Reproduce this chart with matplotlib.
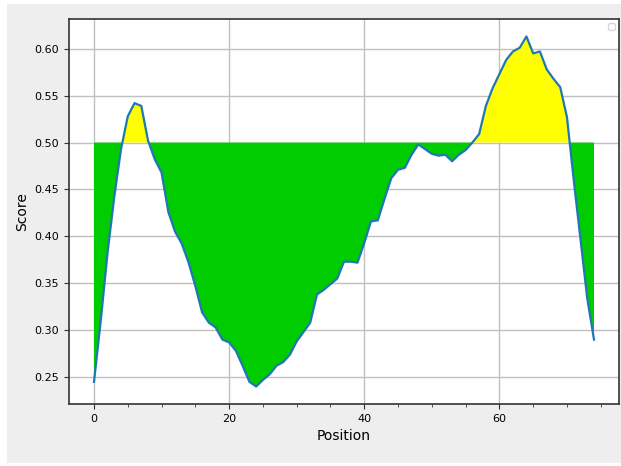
import matplotlib
matplotlib.use('Agg')
import matplotlib.pyplot as plt
from matplotlib.patches import Rectangle
from matplotlib.ticker import MultipleLocator
import numpy as np

# score along the sequence, one value per position
positions = list(range(75))
scores = [
    0.245, 0.310, 0.382, 0.442, 0.493, 0.528, 0.542, 0.539, 0.502, 0.482,
    0.468, 0.426, 0.405, 0.392, 0.372, 0.347, 0.319, 0.308, 0.303, 0.290,
    0.287, 0.278, 0.262, 0.245, 0.240, 0.247, 0.253, 0.262, 0.266, 0.274,
    0.288, 0.298, 0.308, 0.338, 0.343, 0.349, 0.355, 0.373, 0.373, 0.372,
    0.393, 0.416, 0.417, 0.440, 0.462, 0.471, 0.473, 0.487, 0.498, 0.493,
    0.488, 0.486, 0.487, 0.480, 0.487, 0.492, 0.500, 0.509, 0.539, 0.558,
    0.573, 0.588, 0.597, 0.601, 0.613, 0.595, 0.597, 0.578, 0.568, 0.559,
    0.527, 0.460, 0.397, 0.334, 0.290,
]
threshold = 0.5
x_ticks = [0, 20, 40, 60]
y_ticks = [0.25, 0.30, 0.35, 0.40, 0.45, 0.50, 0.55, 0.60]

x = np.array(positions)
y = np.array(scores)

fig = plt.figure(figsize=(6.21, 4.66), dpi=100, facecolor='white')
# grey panel behind everything, with a thin white margin like the screenshot
fig.patches.append(Rectangle((7 / 621, 3 / 466), 614 / 621, 459 / 466,
                             transform=fig.transFigure, facecolor='#eeeeee',
                             edgecolor='none', zorder=-10))
ax = fig.add_axes([69 / 621, 62 / 466, 550 / 621, 385 / 466])
ax.set_facecolor('white')

ax.fill_between(x, y, threshold, where=y <= threshold, interpolate=True,
                color='#00cc00', linewidth=0)
ax.fill_between(x, y, threshold, where=y >= threshold, interpolate=True,
                color='#ffff00', linewidth=0)
ax.plot(x, y, color='#1f77b4', linewidth=1.6)

ax.set_xticks(x_ticks)
ax.set_yticks(y_ticks)
ax.set_yticklabels([f'{v:.2f}' for v in y_ticks])
ax.xaxis.set_minor_locator(MultipleLocator(5))
ax.tick_params(axis='both', which='major', labelsize=8, length=3.5, color='#333333')
ax.tick_params(axis='x', which='minor', length=2.5, color='#333333')
ax.grid(True, color='#c0c0c0', linewidth=1)
ax.set_axisbelow(True)
for s in ax.spines.values():
    s.set_color('#333333')
    s.set_linewidth(1.2)

ax.set_xlabel('Position', fontsize=10)
ax.set_ylabel('Score', fontsize=10)
ax.legend(handles=[], loc='upper right', fontsize=6)

fig.savefig('out.png', dpi=100, facecolor=fig.get_facecolor())
